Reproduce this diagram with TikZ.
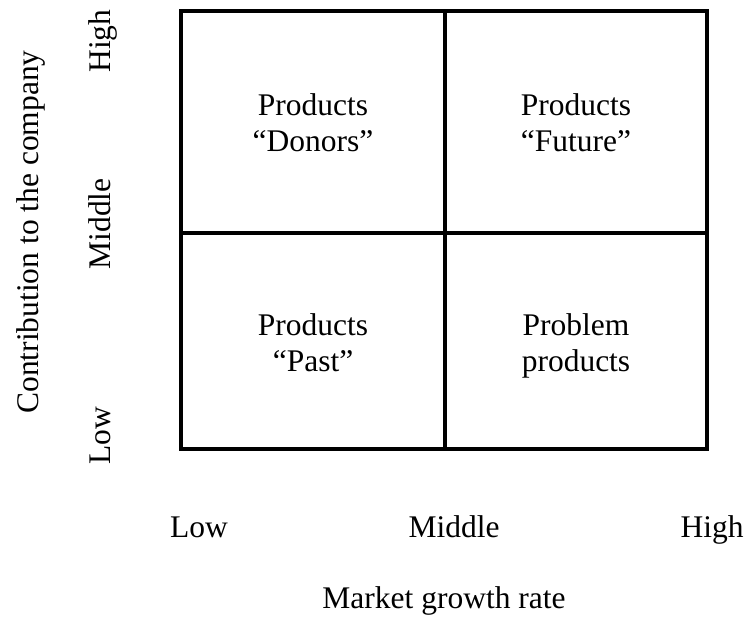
\documentclass[tikz,border=0pt]{standalone}
\usepackage{fontspec}
\setmainfont{Liberation Serif}
\usepackage{tikz}
\usetikzlibrary{positioning}

\tikzset{
    gridline/.style={line width=1.6pt},
    quadrant/.style={text height=29pt, text depth=5pt},
    axislabel/.style={anchor=base},
    sidelabel/.style={anchor=base, rotate=90}
}

\begin{document}
\begin{tikzpicture}[x=0.5pt, y=-0.5pt, every node/.style={font=\fontsize{15.75}{18}\selectfont, align=center}]
        \useasboundingbox (0,0) rectangle (744,617);

        % the 2x2 grid
        \coordinate (nw) at (181,11);
        \coordinate (se) at (707,449);
        \draw[gridline] (nw) rectangle (se);
        \draw[gridline] (445,11) -- (445,449);
        \draw[gridline] (181,233) -- (707,233);

        % quadrants
        \node[quadrant] (donors) at (313,127) {Products\\``Donors''};
        \node[quadrant] (future) at (576,127) {Products\\``Future''};
        \node[quadrant] (past) at (313,347) {Products\\``Past''};
        \node[quadrant] (problem) at (576,347) {Problem\\products};

        % vertical axis
        \node[sidelabel] (yhigh) at (110,41) {High};
        \node[sidelabel] (ymid) at (110,224) {Middle};
        \node[sidelabel] (ylow) at (110,436) {Low};
        \node[sidelabel] (ytitle) at (39,232) {Contribution to the company};

        % horizontal axis
        \node[axislabel] (xlow) at (199,537) {Low};
        \node[axislabel] (xmid) at (454,537) {Middle};
        \node[axislabel] (xhigh) at (712,537) {High};
        \node[axislabel] (xtitle) at (444,608) {Market growth rate};
    \end{tikzpicture}
\end{document}
